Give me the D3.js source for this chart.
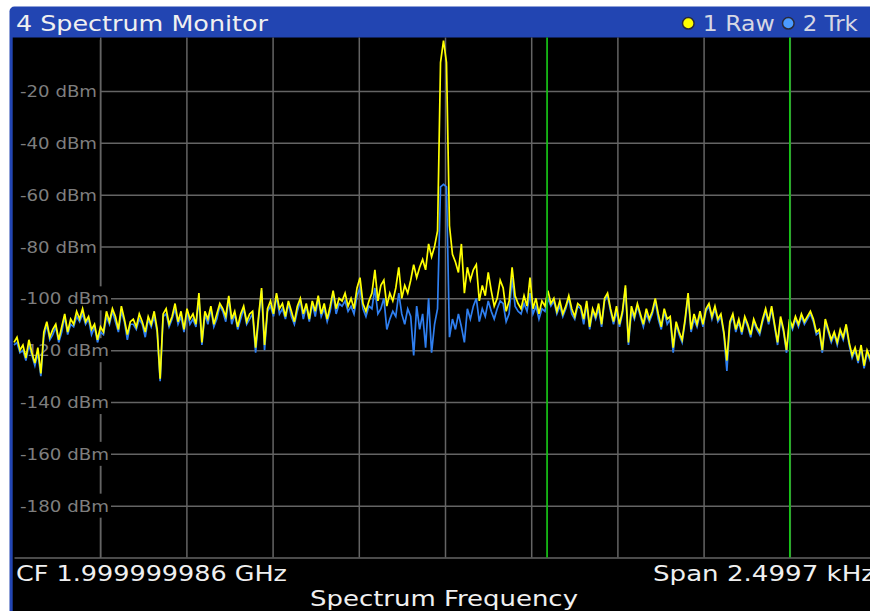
<!DOCTYPE html>
<meta charset="utf-8">
<style>
body { margin: 0; background: #fff; }
svg { display: block; font-family: "DejaVu Sans", Verdana, sans-serif; }
.grid line, .grid path { stroke: #646464; stroke-width: 1.5px; }
.ylab text { fill: #7e7e7e; font-size: 15.5px; }
.hdr { fill: #f0f0f0; font-size: 21.5px; }
.leg { fill: #d6d8e4; font-size: 21.5px; }
</style>
<svg width="870" height="611"></svg>
<script src="https://d3js.org/d3.v7.min.js"></script>
<script>

// sweep settings
var span = 2499.7;            // Hz
var centerFreq = "CF 1.999999986 GHz",
    spanLabel = "Span 2.4997 kHz";

var yTicks = [-20, -40, -60, -80, -100, -120, -140, -160, -180];
var traceNames = ["1 Raw", "2 Trk"];
var displayLines = [296, 1000];   // Hz offset from CF

// trace 1 (Raw), dBm, one value per sweep point
var rawTrace = [
  -117,-115,-120,-118,-123,-116,-121,-125,-119,-129,
  -113,-109,-115,-112,-110,-116,-111,-106,-113,-108,
  -110,-105,-108,-104,-109,-107,-112,-110,-116,-111,
  -113,-105,-109,-104,-107,-112,-103,-108,-114,-109,
  -108,-111,-106,-109,-113,-107,-110,-105,-112,-131,
  -106,-104,-110,-107,-102,-109,-105,-112,-104,-108,
  -106,-110,-98,-117,-105,-108,-103,-110,-106,-102,
  -104,-107,-99,-108,-105,-111,-106,-103,-109,-106,
  -105,-119,-107,-96,-118,-104,-101,-106,-98,-104,
  -102,-107,-101,-105,-109,-103,-100,-106,-102,-108,
  -101,-105,-99,-106,-102,-108,-103,-97,-104,-100,
  -101,-98,-103,-100,-104,-96,-92,-102,-105,-101,
  -98,-89,-101,-95,-93,-103,-98,-101,-96,-88,
  -100,-95,-98,-93,-87,-92,-88,-85,-89,-79,
  -84,-80,-74,-9,-0.5,-9,-72,-83,-86,-90,
  -79,-98,-88,-93,-89,-87,-101,-95,-99,-90,
  -97,-103,-100,-93,-96,-105,-101,-88,-99,-102,
  -104,-99,-103,-92,-104,-100,-106,-101,-103,-97,
  -102,-100,-105,-101,-106,-103,-99,-104,-107,-102,
  -103,-108,-101,-111,-104,-107,-102,-110,-100,-98,
  -104,-109,-103,-110,-105,-95,-117,-103,-107,-102,
  -106,-110,-104,-108,-105,-100,-106,-111,-104,-108,
  -107,-119,-109,-113,-116,-108,-98,-112,-106,-110,
  -105,-110,-104,-102,-107,-103,-108,-106,-113,-124,
  -109,-106,-112,-108,-113,-107,-110,-114,-108,-111,
  -113,-108,-104,-109,-103,-110,-117,-107,-112,-120,
  -108,-111,-107,-110,-106,-109,-107,-105,-108,-113,
  -112,-120,-108,-112,-116,-113,-117,-112,-115,-110,
  -117,-122,-119,-124,-118,-126,-120,-123,-121,-122
];

// trace 2 (Trk)
var trkTrace = [
  -118,-117,-121,-120,-124,-118,-122,-126,-121,-130,
  -115,-110,-116,-114,-111,-117,-113,-107,-114,-110,
  -111,-107,-109,-106,-110,-108,-114,-111,-117,-113,
  -114,-107,-110,-105,-109,-113,-105,-109,-116,-110,
  -110,-112,-108,-110,-115,-108,-111,-107,-113,-132,
  -107,-106,-111,-108,-104,-110,-107,-113,-105,-110,
  -108,-111,-100,-118,-106,-110,-104,-111,-108,-103,
  -105,-109,-100,-110,-106,-112,-108,-104,-110,-108,
  -106,-121,-108,-97,-120,-105,-103,-107,-99,-106,
  -104,-108,-102,-107,-110,-105,-101,-108,-103,-109,
  -102,-107,-100,-107,-104,-109,-105,-98,-106,-102,
  -103,-101,-105,-103,-106,-99,-96,-104,-107,-103,
  -104,-96,-106,-104,-100,-112,-108,-105,-107,-98,
  -106,-110,-104,-107,-122,-103,-112,-106,-119,-100,
  -121,-110,-104,-57,-56,-57,-115,-108,-112,-106,
  -111,-117,-104,-108,-103,-100,-109,-104,-107,-101,
  -105,-108,-104,-101,-102,-109,-106,-92,-103,-105,
  -106,-102,-105,-98,-106,-103,-108,-104,-105,-100,
  -103,-101,-106,-103,-107,-104,-100,-106,-108,-103,
  -104,-110,-102,-112,-105,-108,-104,-111,-101,-99,
  -105,-110,-105,-111,-106,-96,-118,-105,-108,-103,
  -107,-111,-106,-109,-106,-101,-108,-112,-105,-110,
  -108,-121,-110,-114,-117,-109,-99,-113,-108,-111,
  -106,-111,-105,-103,-108,-104,-109,-107,-114,-128,
  -110,-107,-113,-109,-114,-108,-111,-115,-109,-112,
  -114,-109,-105,-110,-104,-111,-118,-108,-113,-121,
  -109,-112,-108,-111,-107,-110,-108,-106,-109,-114,
  -113,-121,-109,-113,-117,-114,-118,-113,-116,-111,
  -118,-123,-120,-125,-119,-127,-121,-124,-122,-123
];

var svg = d3.select("svg"),
    W = +svg.attr("width"),
    H = +svg.attr("height"),
    plot = {left: 14, right: 876, top: 39.2, bottom: 557.5, clipTop: 37.5},
    axisX = 100;

var nPts = rawTrace.length;
function freqAt(i) { return -span / 2 + i * span / (nPts - 1); }

var x = d3.scaleLinear().domain([-span / 2, span / 2]).range([plot.left, plot.right]),
    y = d3.scaleLinear().domain([-200, 0]).range([plot.bottom, plot.top]);

// window frame: blue title bar + left edge, black screen
svg.append("rect")
    .attr("x", 9.5).attr("y", 6.5)
    .attr("width", W + 20).attr("height", H)
    .attr("rx", 5)
    .attr("fill", "#2245b2");
svg.append("rect")
    .attr("x", 12.7).attr("y", plot.clipTop)
    .attr("width", W).attr("height", H)
    .attr("fill", "#000");

svg.append("clipPath").attr("id", "clip")
  .append("rect")
    .attr("x", 12.7).attr("y", plot.clipTop)
    .attr("width", W).attr("height", plot.bottom - plot.clipTop + 1);

// grid: 10 frequency divisions, level lines every 20 dB
var xDiv = d3.range(1, 10).map(function(k) { return -span / 2 + k * span / 10; });

svg.append("g")
    .attr("class", "grid")
    .attr("transform", "translate(0," + plot.bottom + ")")
    .call(d3.axisBottom(x).tickValues(xDiv)
        .tickSize(-(plot.bottom - plot.clipTop)).tickSizeOuter(0).tickFormat(""));

svg.append("g")
    .attr("class", "grid")
    .attr("transform", "translate(" + axisX + ",0)")
    .call(d3.axisLeft(y).tickValues(yTicks)
        .tickSize(-(plot.right - axisX)).tickSizeOuter(0).tickFormat(""));

// level labels sit on black boxes over the grid
function labelW(d) { return d <= -100 ? 89 : 77; }

var lab = svg.append("g")
    .attr("class", "ylab")
  .selectAll("g")
  .data(yTicks)
  .join("g")
    .attr("transform", function(d) { return "translate(20," + y(d) + ")"; });

lab.append("rect")
    .attr("x", -3).attr("y", -12)
    .attr("width", function(d) { return labelW(d) + 5; })
    .attr("height", 24)
    .attr("fill", "#000");

lab.append("text")
    .attr("y", 6)
    .attr("textLength", labelW)
    .attr("lengthAdjust", "spacingAndGlyphs")
    .text(function(d) { return d + " dBm"; });

// traces
var line = d3.line()
    .x(function(d, i) { return x(freqAt(i)); })
    .y(function(d) { return y(d); });

var traces = svg.append("g").attr("clip-path", "url(#clip)");

traces.append("path")
    .datum(trkTrace)
    .attr("fill", "none")
    .attr("stroke", "#2f7ff0")
    .attr("stroke-width", 1.7)
    .attr("d", line);

traces.append("path")
    .datum(rawTrace)
    .attr("fill", "none")
    .attr("stroke", "#ffff00")
    .attr("stroke-width", 1.7)
    .attr("d", line);

// display lines
svg.append("g")
  .selectAll("line")
  .data(displayLines)
  .join("line")
    .attr("x1", x).attr("x2", x)
    .attr("y1", plot.clipTop).attr("y2", plot.bottom)
    .attr("stroke", "#16c416")
    .attr("stroke-width", 1.7);

// header
svg.append("text")
    .attr("class", "hdr")
    .attr("x", 16).attr("y", 30.5)
    .attr("textLength", 252).attr("lengthAdjust", "spacingAndGlyphs")
    .text("4 Spectrum Monitor");

var legX = [688.3, 788.3],
    legW = [72, 55],
    legColor = ["#ffff00", "#4b9bff"];

var leg = svg.append("g")
  .selectAll("g")
  .data(traceNames)
  .join("g")
    .attr("transform", function(d, i) { return "translate(" + legX[i] + ",0)"; });

leg.append("circle")
    .attr("cy", 23.3).attr("r", 5.8)
    .attr("fill", function(d, i) { return legColor[i]; })
    .attr("stroke", "#2a2a3a")
    .attr("stroke-width", 1.5);

leg.append("text")
    .attr("class", "leg")
    .attr("x", 14.5).attr("y", 30.7)
    .attr("textLength", function(d, i) { return legW[i]; })
    .attr("lengthAdjust", "spacingAndGlyphs")
    .text(function(d) { return d; });

// footer
svg.append("text")
    .attr("class", "hdr")
    .attr("x", 16).attr("y", 580.7)
    .attr("textLength", 271).attr("lengthAdjust", "spacingAndGlyphs")
    .text(centerFreq);

svg.append("text")
    .attr("class", "hdr")
    .attr("x", 653).attr("y", 581)
    .attr("textLength", 222).attr("lengthAdjust", "spacingAndGlyphs")
    .text(spanLabel);

svg.append("text")
    .attr("class", "hdr")
    .attr("x", 310).attr("y", 606)
    .attr("textLength", 268).attr("lengthAdjust", "spacingAndGlyphs")
    .text("Spectrum Frequency");

</script>
